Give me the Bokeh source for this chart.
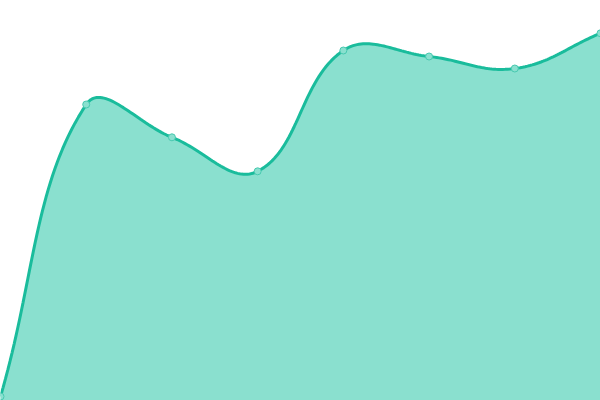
import numpy as np
from bokeh.plotting import figure
from bokeh.models import Range1d
from bokeh.embed import file_html
from bokeh.resources import INLINE

# data
labels = ["1", "2", "3", "4", "5", "6", "7", "8"]
values = [1.0, 74.0, 65.8, 57.3, 87.5, 86.0, 83.0, 91.8]
y_min, y_max = 0, 100

W, H = 600, 400
TENSION = 0.4

xs = np.arange(len(values), dtype=float)
ys = np.array(values, dtype=float)

# convert to pixel space for the spline (chart.js-style cardinal spline)
px = xs / (len(values) - 1) * W
py = H - (ys - y_min) / (y_max - y_min) * H
n = len(px)
cp_prev = []
cp_next = []
for i in range(n):
    pp = (px[max(i - 1, 0)], py[max(i - 1, 0)])
    cur = (px[i], py[i])
    nx = (px[min(i + 1, n - 1)], py[min(i + 1, n - 1)])
    d01 = np.hypot(cur[0] - pp[0], cur[1] - pp[1])
    d12 = np.hypot(nx[0] - cur[0], nx[1] - cur[1])
    s01 = d01 / (d01 + d12) if (d01 + d12) else 0
    s12 = d12 / (d01 + d12) if (d01 + d12) else 0
    fa, fb = TENSION * s01, TENSION * s12
    c1 = (cur[0] - fa * (nx[0] - pp[0]), cur[1] - fa * (nx[1] - pp[1]))
    c2 = (cur[0] + fb * (nx[0] - pp[0]), cur[1] + fb * (nx[1] - pp[1]))
    cap = lambda c: (min(max(c[0], 0), W), min(max(c[1], 0), H))
    cp_prev.append(cap(c1))
    cp_next.append(cap(c2))

cx, cy = [], []
t = np.linspace(0, 1, 40)
for i in range(n - 1):
    p0 = np.array([px[i], py[i]])
    p1 = np.array(cp_next[i])
    p2 = np.array(cp_prev[i + 1])
    p3 = np.array([px[i + 1], py[i + 1]])
    seg = ((1 - t) ** 3)[:, None] * p0 + (3 * (1 - t) ** 2 * t)[:, None] * p1 \
        + (3 * (1 - t) * t ** 2)[:, None] * p2 + (t ** 3)[:, None] * p3
    if i > 0:
        seg = seg[1:]
    cx.extend(seg[:, 0])
    cy.extend(seg[:, 1])

cx = np.array(cx) / W * (len(values) - 1)
cy = y_min + (H - np.array(cy)) / H * (y_max - y_min)

p = figure(width=W, height=H, output_backend="svg", toolbar_location=None,
           x_range=Range1d(0, len(values) - 1), y_range=Range1d(y_min, y_max),
           min_border=0)
p.axis.visible = False
p.grid.visible = False
p.outline_line_color = None
p.background_fill_color = "white"
p.border_fill_color = "white"

p.patch(list(cx) + [cx[-1], cx[0]], list(cy) + [y_min, y_min],
        fill_color="#8ae0cf", line_color=None)
p.line(cx, cy, line_color="#1abc9c", line_width=3)
p.scatter(xs, ys, size=7, fill_color="#8ae0cf", line_color="#48c9b0", line_width=1)

open("out.html", "w").write(file_html(p, INLINE))
